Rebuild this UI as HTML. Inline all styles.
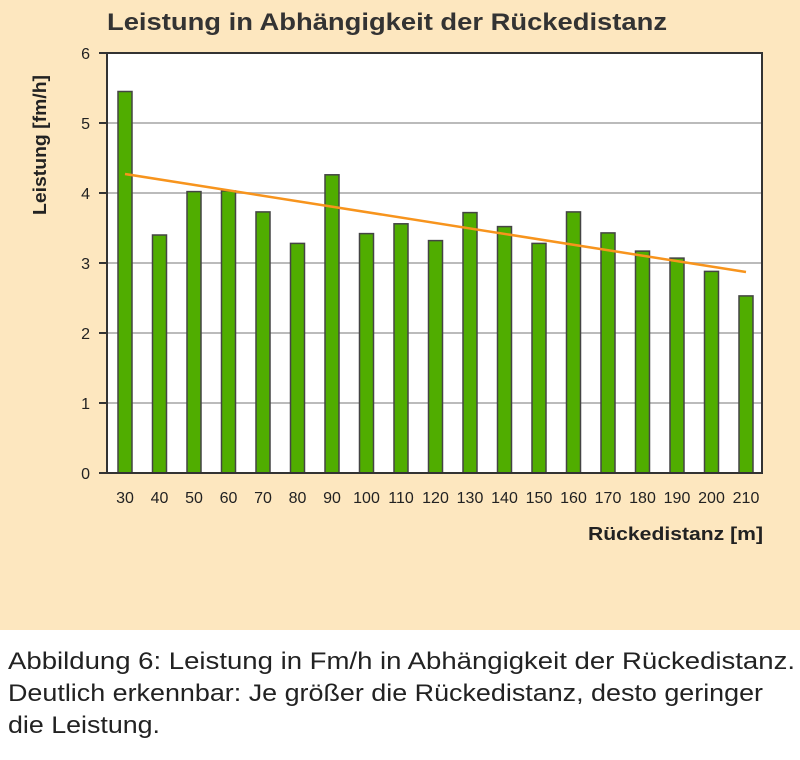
<!DOCTYPE html><html><head><style>body{margin:0;width:800px;height:755px;background:#fff;overflow:hidden}</style></head><body>
<svg width="800" height="755" xmlns="http://www.w3.org/2000/svg" font-family="Liberation Sans, sans-serif">
<rect x="0" y="0" width="800" height="630" fill="#fde7bf"/>
<text x="107" y="30" font-size="24" font-weight="bold" fill="#333" textLength="560" lengthAdjust="spacingAndGlyphs">Leistung in Abhängigkeit der Rückedistanz</text>
<rect x="107" y="53" width="655" height="420" fill="#fff"/>
<g stroke="#bbb" stroke-width="2">
<line x1="107" x2="762" y1="123" y2="123"/><line x1="107" x2="762" y1="193" y2="193"/><line x1="107" x2="762" y1="263" y2="263"/><line x1="107" x2="762" y1="333" y2="333"/><line x1="107" x2="762" y1="403" y2="403"/></g>
<g fill="#50ad00" stroke="#444" stroke-width="1.5" id="b"></g>
<line x1="125" y1="174" x2="746" y2="272" stroke="#f7941d" stroke-width="2.5"/>
<rect x="107" y="53" width="655" height="420" fill="none" stroke="#333" stroke-width="2"/>
<g stroke="#333" stroke-width="2"><line x1="99" x2="107" y1="53" y2="53"/><line x1="99" x2="107" y1="123" y2="123"/><line x1="99" x2="107" y1="193" y2="193"/><line x1="99" x2="107" y1="263" y2="263"/><line x1="99" x2="107" y1="333" y2="333"/><line x1="99" x2="107" y1="403" y2="403"/><line x1="99" x2="107" y1="473" y2="473"/></g>
<g font-size="16" fill="#222" text-anchor="end"><text x="90" y="59">6</text><text x="90" y="129">5</text><text x="90" y="199">4</text><text x="90" y="269">3</text><text x="90" y="339">2</text><text x="90" y="409">1</text><text x="90" y="479">0</text></g>
<g font-size="16" fill="#222" text-anchor="middle" id="xl"></g>
<text x="588" y="540" font-size="18" font-weight="bold" fill="#222" textLength="175" lengthAdjust="spacingAndGlyphs">Rückedistanz [m]</text>
<text transform="translate(46,215) rotate(-90)" font-size="18" font-weight="bold" fill="#222" textLength="140" lengthAdjust="spacingAndGlyphs">Leistung [fm/h]</text>
<g font-size="24" fill="#222" lengthAdjust="spacingAndGlyphs"><text x="8" y="669" textLength="787" lengthAdjust="spacingAndGlyphs">Abbildung 6: Leistung in Fm/h in Abhängigkeit der Rückedistanz.</text><text x="8" y="701" textLength="755" lengthAdjust="spacingAndGlyphs">Deutlich erkennbar: Je größer die Rückedistanz, desto geringer</text><text x="8" y="733" textLength="152" lengthAdjust="spacingAndGlyphs">die Leistung.</text></g>
<script>
var v=[5.45,3.4,4.02,4.03,3.73,3.28,4.26,3.42,3.56,3.32,3.72,3.52,3.28,3.73,3.43,3.17,3.07,2.88,2.53],b=document.getElementById('b'),xl=document.getElementById('xl'),ns='http://www.w3.org/2000/svg';
v.forEach(function(d,i){var c=125+i*34.5,r=document.createElementNS(ns,'rect');r.setAttribute('x',c-7);r.setAttribute('width',14);r.setAttribute('y',473-70*d);r.setAttribute('height',70*d);b.appendChild(r);
var t=document.createElementNS(ns,'text');t.setAttribute('x',c);t.setAttribute('y',503);t.textContent=30+10*i;xl.appendChild(t);});
</script>
</svg></body></html>
